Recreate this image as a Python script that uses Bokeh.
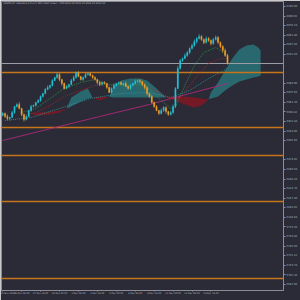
from bokeh.plotting import figure
from bokeh.models import Range1d, LinearAxis, FixedTicker, Label, ColumnDataSource
from bokeh.embed import file_html
from bokeh.resources import INLINE

# ---------------- data ----------------
title_text = "US500,H4:  Standard & Poor's 500 (Cash Index) - CFD  6031.50 6033.20 6018.30 6019.50"

first_open = 5942.0
closes = [5944.5, 5940, 5937, 5938.5, 5946, 5955, 5958, 5952, 5943, 5935.5, 5940, 5949,
          5955, 5956.5, 5961, 5964, 5970, 5974.5, 5980.5, 5983.5, 5986.5, 5994, 5998.5, 6003,
          5995.5, 5989.5, 5982, 5985, 5988, 5994, 5998.5, 6006, 6000, 5995.5, 5998.5, 6003,
          6004.5, 6001.5, 5998.5, 5995.5, 5991, 5988, 5991, 5989.5, 5983.5, 5976, 5982, 5986.5,
          5989.5, 5991, 5988, 5989.5, 5985, 5982, 5986.5, 5989.5, 5992.5, 5994, 5992.5, 5988,
          5983.5, 5974.5, 5970, 5961, 5955, 5949, 5944.5, 5949, 5953.5, 5947.5, 5943, 5946,
          5955, 5982, 6012, 6024, 6027, 6031.5, 6036, 6042, 6046.5, 6052.5, 6057, 6060,
          6055.5, 6051, 6057, 6054, 6049.5, 6055.5, 6058.5, 6051, 6045, 6039, 6031.5, 6019.5]
upper_wick = [2, 1.5, 3, 1, 2.5, 1, 2, 3.5, 1, 1.5, 2, 1,
              2.5, 1.5, 1, 2, 1.5, 1, 2, 3, 1.5, 2, 1, 3.5,
              2, 1, 1.5, 2, 1, 2.5, 3, 1.5, 2, 1, 1.5, 3,
              2, 1, 1.5, 2, 1, 2.5, 1.5, 2, 1, 1.5, 2, 3,
              1, 1.5, 2, 1, 2.5, 1.5, 2, 1, 3, 1.5, 2, 1,
              1.5, 2, 1, 2.5, 1.5, 2, 1, 3, 2, 1.5, 1, 2.5,
              3, 2, 4, 2, 1.5, 3, 2, 1.5, 2.5, 3, 2, 3.5,
              2, 1.5, 3, 2, 1.5, 2.5, 3, 2, 1.5, 2, 3, 2.5]
lower_wick = [1.5, 2, 2.5, 3, 1, 2, 1.5, 1, 2.5, 3, 1.5, 1,
              2, 1, 1.5, 1, 2, 1.5, 1, 1, 2, 1.5, 1, 2,
              2.5, 3, 1.5, 1, 2, 1, 1.5, 2, 1, 1.5, 2, 1,
              1.5, 1, 2, 1.5, 3, 2.5, 1, 1.5, 2, 1, 1.5, 1,
              2, 1.5, 1, 2, 1, 1.5, 2, 1, 1.5, 2, 3, 2.5,
              3, 2.5, 2, 1.5, 2, 1, 2, 1.5, 2, 3, 2, 1.5,
              2, 2.5, 1, 1.5, 2, 1, 2, 2.5, 1.5, 2, 3, 1.5,
              2, 2.5, 1.5, 2, 3, 2, 1.5, 2, 2.5, 3, 2, 1.5]

# Ichimoku cloud (Senkou span A / B)
cloud_x = [11, 15, 20, 24, 27, 29, 33, 36, 38, 41, 45, 47, 50, 54, 58, 61, 65, 69,
           73, 77, 81, 84, 87, 88, 91, 94, 97, 100, 103, 106, 108, 109]
span_a = [5944.5, 5941.5, 5943, 5946, 5952, 5968.5, 5977.5, 5982, 5968.5, 5964, 5969.25,
          5985, 5994, 5997, 5997, 5994, 5982, 5968.5, 5964, 5958, 5953.5, 5956.5, 5965.5,
          5976, 5991, 6009, 6027, 6040.5, 6046.5, 6048, 6043.5, 6039]
span_b = [5944.5, 5946, 5947.5, 5949, 5952, 5955, 5962.5, 5967, 5968.5, 5970, 5969.25,
          5968.5, 5968.5, 5968.5, 5968.5, 5968.5, 5968.5, 5968.5, 5970, 5970, 5968.5, 5967, 5965.5,
          5967, 5970, 5979, 5986.5, 5992.5, 5995.5, 5998.5, 6000, 6001.5]

# moving averages
ma_fast_x = [8, 14, 20, 26, 33, 39, 45, 52, 58, 62, 66, 71, 73, 77, 81, 85, 90, 92, 95]
ma_fast_y = [5946, 5952, 5967, 5982, 5991, 5995.5, 5988, 5986.5, 5988, 5982, 5967, 5952,
             5955, 5986.5, 6016.5, 6036, 6043.5, 6039, 6031.5]
ma_mid_x = [8, 14, 20, 26, 33, 39, 45, 52, 58, 62, 66, 71, 75, 79, 83, 87, 92, 95]
ma_mid_y = [5941.5, 5946, 5956.5, 5970, 5979, 5986.5, 5986.5, 5986.5, 5986.5, 5983.5, 5976,
            5967, 5968.5, 5986.5, 6004.5, 6019.5, 6027, 6027]
ma_slow_x = [1, 12, 24, 37, 50, 62, 71, 79, 87, 95]
ma_slow_y = [5934, 5938.5, 5952, 5967, 5974.5, 5976, 5968.5, 5979, 5997, 6012]
ma_long_x = [0, 17, 41, 62, 79, 95]
ma_long_y = [5904, 5919, 5940, 5958, 5974.5, 5989.5]

# horizontal levels
levels = [6006.0, 5923.0, 5881.0, 5812.0, 5697.0]
current_price = 6019.5

# axis ticks
price_ticks = [6105.00, 6090.62, 6076.24, 6061.86, 6047.48, 6033.10, 5989.96, 5975.58,
               5961.20, 5946.82, 5932.44, 5918.06, 5903.68, 5874.92, 5860.54, 5846.16,
               5831.78, 5817.40, 5803.02, 5788.64, 5774.26, 5759.88, 5745.50, 5731.12,
               5716.74, 5702.36, 5687.98]
time_ticks = [0, 8, 16, 24, 32, 40, 48, 56, 64, 72, 80, 88]
time_labels = ["25 Nov 2024", "26 Nov 08:00", "27 Nov 16:00", "29 Nov 00:00", "2 Dec 08:00",
               "3 Dec 16:00", "5 Dec 00:00", "6 Dec 08:00", "9 Dec 16:00", "11 Dec 00:00",
               "12 Dec 08:00", "13 Dec 16:00"]

# ---------------- style ----------------
BG = "#2a2b36"
BULL = "#22c4d6"
BEAR = "#eea02a"
LEVEL = "#c8741a"
GRID_TXT = "#b4b4bc"
FONT = "DejaVu Sans"
FS = "2.6px"
FSX = "2.3px"

p = figure(width=300, height=300, output_backend="svg", toolbar_location=None,
           x_range=Range1d(-0.5, 118.66), y_range=Range1d(5679, 6112.5),
           min_border_left=1, min_border_top=1, min_border_right=16, min_border_bottom=10,
           x_axis_location=None, y_axis_location=None)
p.background_fill_color = BG
p.border_fill_color = BG
p.outline_line_color = "#8c8c94"
p.outline_line_width = 1
p.grid.visible = False

# cloud
bounds = [k for k in range(len(cloud_x)) if span_a[k] == span_b[k]]
segs = list(zip(bounds[:-1], bounds[1:])) + [(bounds[-1], len(cloud_x) - 1)]
bull_xs, bull_ys, bear_xs, bear_ys = [], [], [], []
for s, e in segs:
    xs = cloud_x[s:e + 1] + cloud_x[s:e + 1][::-1]
    ys = span_a[s:e + 1] + span_b[s:e + 1][::-1]
    if span_a[s + 1] > span_b[s + 1]:
        bull_xs.append(xs); bull_ys.append(ys)
    else:
        bear_xs.append(xs); bear_ys.append(ys)
p.patches(bull_xs, bull_ys, fill_color="#2aa5a8", fill_alpha=0.5, line_color=None)
p.patches(bear_xs, bear_ys, fill_color="#a0101e", fill_alpha=0.65, line_color=None)

# levels (full-width horizontal lines)
p.hspan(y=levels, line_color=LEVEL, line_width=1.5)
p.hspan(y=[current_price], line_color="#9c9ca4", line_width=1.2)

# moving averages
p.line(ma_long_x, ma_long_y, line_color="#b0287a", line_width=0.9)
p.line(ma_slow_x, ma_slow_y, line_color="#2a9aa0", line_width=0.8, line_dash="1 1")
p.line(ma_mid_x, ma_mid_y, line_color="#a8282c", line_width=0.8, line_dash="1 1")
p.line(ma_fast_x, ma_fast_y, line_color="#2f9a44", line_width=0.8, line_dash="1 1")

# candles
opens = [first_open] + closes[:-1]
idx = list(range(len(closes)))
highs = [max(o, c) + u for o, c, u in zip(opens, closes, upper_wick)]
lows = [min(o, c) - l for o, c, l in zip(opens, closes, lower_wick)]
colors = [BULL if c >= o else BEAR for o, c in zip(opens, closes)]
src = ColumnDataSource(dict(x=idx, o=opens, c=closes, h=highs, l=lows, col=colors))
p.segment("x", "h", "x", "l", source=src, line_color="col", line_width=0.7)
p.vbar(x="x", bottom="o", top="c", width=0.6, source=src, fill_color="col", line_color="col", line_width=0.2)

# axes
yax = LinearAxis(ticker=FixedTicker(ticks=price_ticks),
                 major_label_overrides={t: f"{t:.2f}" for t in price_ticks})
yax.axis_line_color = None
yax.major_tick_line_color = "#8c8c94"
yax.major_tick_out = 2
yax.major_tick_in = 0
yax.minor_tick_line_color = None
yax.major_label_standoff = 1
yax.major_label_text_font = FONT
yax.major_label_text_font_size = FS
yax.major_label_text_color = GRID_TXT
p.add_layout(yax, "right")

xax = LinearAxis(ticker=FixedTicker(ticks=time_ticks),
                 major_label_overrides={t: s for t, s in zip(time_ticks, time_labels)})
xax.axis_line_color = None
xax.major_tick_line_color = "#8c8c94"
xax.major_tick_out = 1
xax.major_tick_in = 0
xax.minor_tick_line_color = None
xax.major_label_standoff = 1
xax.major_label_text_align = "left"
xax.major_label_text_font = FONT
xax.major_label_text_font_size = FSX
xax.major_label_text_color = GRID_TXT
p.add_layout(xax, "below")

# price tags on the right scale
for lv in levels:
    p.add_layout(Label(x=119.4, y=lv, text=f"{lv:.2f}", text_font=FONT, text_font_size=FS,
                       text_color="#1a1a22", text_baseline="middle",
                       background_fill_color="#e8891c", padding=1))
p.add_layout(Label(x=119.4, y=current_price, text=f"{current_price:.2f}", text_font=FONT,
                   text_font_size=FS, text_color="#1a1a22", text_baseline="middle",
                   background_fill_color="#b4b4bc", padding=1))

# title
p.add_layout(Label(x=0.3, y=6109.5, text=title_text, text_font=FONT, text_font_size=FSX,
                   text_color="#b8b8c0", text_baseline="middle"))

open("out.html", "w").write(file_html(p, INLINE))
